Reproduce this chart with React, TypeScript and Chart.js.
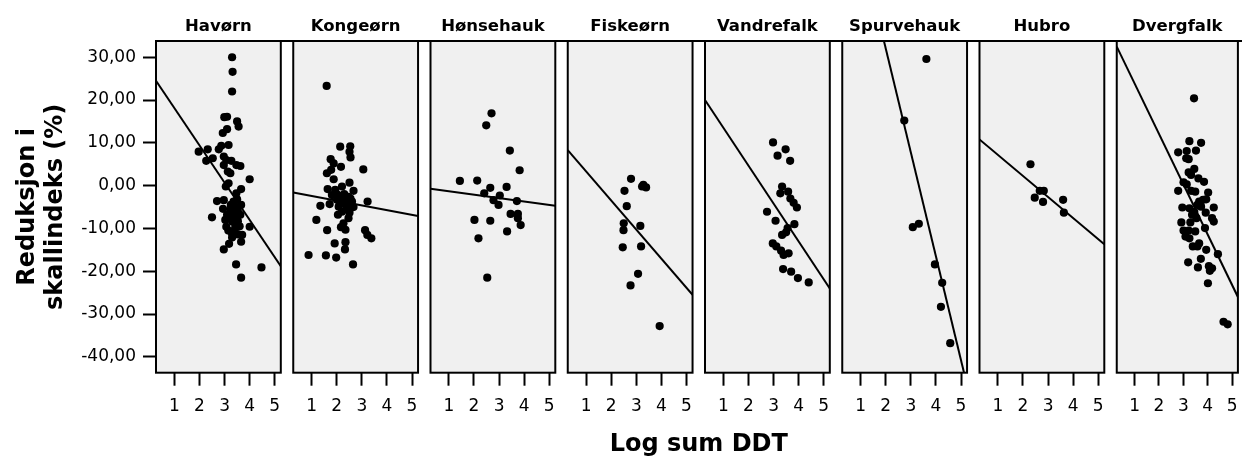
import React, { useEffect, useRef } from 'react';
import { Chart, registerables } from 'chart.js';

Chart.register(...registerables);

// ---------- data ----------
const species = ['Havørn', 'Kongeørn', 'Hønsehauk', 'Fiskeørn', 'Vandrefalk', 'Spurvehauk', 'Hubro', 'Dvergfalk'];

const havorn: number[][] = [
  [3.30, 30.0], [3.32, 26.6], [3.30, 22.0], [2.99, 16.0], [3.10, 16.1], [3.50, 15.0], [3.56, 13.8], [3.10, 13.2],
  [2.93, 12.3], [1.97, 7.95], [2.33, 8.5], [2.77, 8.5], [2.87, 9.3], [3.16, 9.5], [2.27, 5.8], [2.53, 6.4],
  [2.97, 6.8], [3.07, 6.0], [3.27, 5.8], [3.47, 4.8], [3.63, 4.6], [2.97, 4.8], [3.13, 3.3], [3.23, 2.9],
  [4.00, 1.5], [3.16, 0.55], [3.05, -0.2], [3.66, -0.8], [3.47, -1.8], [2.70, -3.6], [2.97, -3.4], [3.36, -3.7],
  [3.66, -4.5], [2.94, -5.4], [3.23, -5.7], [3.53, -5.9], [2.50, -7.4], [3.10, -6.8], [3.39, -7.2], [3.63, -6.8],
  [3.03, -8.0], [3.30, -8.4], [3.53, -8.3], [3.07, -9.6], [3.43, -9.6], [4.00, -9.6], [3.30, -11.2], [3.53, -11.4],
  [3.30, -12.1], [3.70, -11.5], [3.66, -13.1], [3.18, -13.6], [2.97, -14.9], [3.46, -18.4], [4.47, -19.1], [3.66, -21.5],
  [3.20, -7.6], [3.45, -5.0], [3.15, -10.5], [3.40, -10.4], [3.60, -9.5], [3.25, -4.5], [3.50, -3.2], [3.35, -6.0],
];

const kongeorn: number[][] = [
  [1.60, 23.3], [2.14, 9.1], [2.54, 9.2], [2.51, 7.9], [2.55, 6.6], [1.76, 6.2], [1.88, 5.2], [2.17, 4.4],
  [3.06, 3.8], [1.78, 3.7], [1.61, 2.9], [1.88, 1.5], [2.51, 0.7], [2.21, -0.2], [1.64, -0.8], [1.94, -1.0],
  [2.67, -1.2], [1.81, -2.2], [2.14, -2.4], [2.47, -2.6], [2.01, -3.3], [2.27, -3.7], [2.61, -3.7], [3.23, -3.7],
  [1.35, -4.7], [1.72, -4.3], [2.08, -4.9], [2.41, -4.7], [2.67, -5.0], [2.21, -6.1], [2.51, -6.3], [2.05, -6.8],
  [2.47, -7.6], [1.19, -8.0], [2.27, -8.8], [2.17, -9.7], [2.35, -10.3], [1.62, -10.4], [3.13, -10.4], [3.22, -11.5],
  [3.38, -12.3], [1.92, -13.5], [2.35, -13.2], [2.33, -14.9], [0.88, -16.2], [1.57, -16.3], [1.98, -16.8], [2.65, -18.4],
  [2.30, -2.0], [2.40, -5.5], [2.55, -3.0], [2.20, -4.2], [2.00, -2.0], [2.45, -4.0],
];

const honsehauk: number[][] = [
  [2.70, 16.9], [2.49, 14.1], [3.43, 8.2], [3.82, 3.6], [1.44, 1.1], [2.13, 1.2], [2.65, -0.5], [3.30, -0.3],
  [2.41, -1.8], [3.03, -2.3], [2.78, -3.4], [2.98, -4.5], [3.71, -3.6], [3.46, -6.6], [3.75, -6.6], [3.75, -7.6],
  [2.02, -8.0], [2.65, -8.2], [3.86, -9.2], [3.32, -10.7], [2.18, -12.3], [2.53, -21.5],
];

const fiskeorn: number[][] = [
  [2.79, 1.6], [3.28, 0.2], [3.39, -0.4], [3.23, -0.2], [2.53, -1.2], [2.62, -4.8], [2.50, -8.8], [3.16, -9.4],
  [2.49, -10.4], [2.46, -14.4], [3.19, -14.2], [3.07, -20.6], [2.77, -23.3], [3.93, -32.8],
];

const vandrefalk: number[][] = [
  [2.98, 10.1], [3.48, 8.5], [3.16, 7.0], [3.66, 5.8], [3.34, -0.2], [3.27, -1.8], [3.58, -1.4], [3.67, -3.0],
  [3.80, -4.0], [3.93, -5.1], [2.74, -6.1], [3.08, -8.2], [3.83, -9.0], [3.56, -9.9], [3.50, -10.9], [3.34, -11.5],
  [2.97, -13.5], [3.11, -14.2], [3.30, -15.2], [3.40, -16.2], [3.60, -15.8], [3.38, -19.5], [3.70, -20.1], [3.97, -21.6],
  [4.40, -22.6],
];

const spurvehauk: number[][] = [
  [3.62, 29.6], [2.74, 15.2], [3.08, -9.7], [3.32, -8.9], [3.96, -18.4], [4.25, -22.7], [4.20, -28.3], [4.57, -36.8],
];

const hubro: number[][] = [
  [2.30, 5.0], [2.67, -1.2], [2.83, -1.2], [2.47, -2.8], [2.80, -3.8], [3.60, -3.3], [3.63, -6.3],
];

const dvergfalk: number[][] = [
  [3.44, 20.4], [3.25, 10.4], [3.73, 10.0], [2.79, 7.8], [3.14, 8.1], [3.52, 8.2], [3.12, 6.4], [3.22, 6.2],
  [3.45, 3.9], [3.22, 3.1], [3.32, 2.5], [3.62, 1.7], [3.85, 0.9], [3.01, 0.8], [3.14, 0.3], [2.79, -1.2],
  [3.32, -1.2], [3.49, -1.4], [4.02, -1.6], [3.65, -3.7], [3.81, -3.3], [3.94, -3.2], [3.58, -4.5], [2.96, -5.1],
  [3.25, -5.3], [3.45, -6.1], [3.73, -4.9], [4.25, -5.1], [3.92, -6.3], [3.36, -6.8], [3.54, -7.6], [4.18, -7.6],
  [4.25, -8.4], [2.92, -8.6], [3.29, -8.6], [3.89, -9.9], [3.01, -10.5], [3.22, -10.5], [3.49, -10.7], [3.09, -11.9],
  [3.25, -12.3], [3.65, -13.5], [3.39, -14.2], [3.58, -14.2], [3.94, -15.0], [4.42, -16.0], [3.20, -17.9], [3.72, -17.1],
  [4.05, -18.8], [4.18, -19.3], [3.60, -19.1], [4.09, -19.9], [4.01, -22.8], [4.65, -31.8], [4.82, -32.4],
];

// fitted line end points (data units)
const havornFit = [[0.27, 24.5], [5.24, -18.8]];
const kongeornFit = [[0.27, -1.6], [5.24, -7.1]];
const honsehaukFit = [[0.27, -0.7], [5.24, -4.7]];
const fiskeornFit = [[0.27, 8.3], [5.24, -25.5]];
const vandrefalkFit = [[0.27, 20.0], [5.24, -24.0]];
const spurvehaukFit = [[1.93, 33.8], [5.12, -43.7]];
const hubroFit = [[0.27, 10.8], [5.24, -13.7]];
const dvergfalkFit = [[0.27, 32.5], [5.24, -26.0]];

const panelPoints = [havorn, kongeorn, honsehauk, fiskeorn, vandrefalk, spurvehauk, hubro, dvergfalk];
const panelFits = [havornFit, kongeornFit, honsehaukFit, fiskeornFit, vandrefalkFit, spurvehaukFit, hubroFit, dvergfalkFit];

const xTicks = [1, 2, 3, 4, 5];
const yTicks = [30, 20, 10, 0, -10, -20, -30, -40];
const xMin = 0.27;
const xMax = 5.24;
const yMin = -43.7;
const yMax = 33.8;
const xTitle = 'Log sum DDT';
const yTitle = ['Reduksjon i', 'skallindeks (%)'];

// ---------- layout ----------
const W = 1242;
const H = 459;
const PLOT_LEFT = 156;
const PANEL_STEP = 137.25;
const PANEL_W = 124.8;
const PLOT_TOP = 41;
const PLOT_BOTTOM = 372.7;
const FONT = "'DejaVu Sans', sans-serif";

const topLinePlugin = {
  id: 'topLine',
  afterDraw(chart: any) {
    const { ctx, chartArea } = chart;
    ctx.save();
    ctx.strokeStyle = '#000';
    ctx.lineWidth = 2;
    ctx.beginPath();
    ctx.moveTo(chartArea.left, chartArea.top);
    ctx.lineTo(W, chartArea.top);
    ctx.stroke();
    ctx.restore();
  },
};

const panelPlugin = {
  id: 'panelFrame',
  beforeDraw(chart: any) {
    const { ctx, chartArea } = chart;
    ctx.save();
    ctx.fillStyle = '#f0f0f0';
    ctx.fillRect(chartArea.left, chartArea.top, chartArea.right - chartArea.left, chartArea.bottom - chartArea.top);
    ctx.restore();
  },
  afterDraw(chart: any) {
    const { ctx, chartArea } = chart;
    ctx.save();
    ctx.strokeStyle = '#000';
    ctx.lineWidth = 2;
    ctx.strokeRect(chartArea.left, chartArea.top, chartArea.right - chartArea.left, chartArea.bottom - chartArea.top);
    ctx.restore();
  },
};

export default function App() {
  const refs = useRef<(HTMLCanvasElement | null)[]>([]);

  useEffect(() => {
    Chart.defaults.font.family = FONT;
    Chart.defaults.color = '#000';
    const charts: Chart[] = [];
    const lastRight = PLOT_LEFT + 7 * PANEL_STEP + PANEL_W;

    const frameCanvas = refs.current[0];
    if (frameCanvas) {
      charts.push(
        new Chart(frameCanvas, {
          type: 'scatter',
          data: { datasets: [] },
          options: {
            responsive: false,
            animation: false,
            events: [],
            layout: { padding: { left: 0, top: PLOT_TOP, right: W - lastRight, bottom: 0 } },
            plugins: { legend: { display: false }, tooltip: { enabled: false }, title: { display: false } },
            scales: {
              x: {
                type: 'linear',
                min: 0,
                max: 1,
                ticks: { display: false },
                grid: { display: false },
                border: { display: false },
                title: {
                  display: true,
                  text: xTitle,
                  color: '#000',
                  font: { family: FONT, size: 24, weight: 'bold', lineHeight: 1.2 },
                  padding: { top: 0, bottom: 0 },
                },
                afterFit: (s: any) => {
                  s.height = H - PLOT_BOTTOM;
                  s.paddingLeft = 0;
                  s.paddingRight = 0;
                },
              },
              y: {
                type: 'linear',
                min: yMin,
                max: yMax,
                afterBuildTicks: (s: any) => {
                  s.ticks = yTicks.map((v) => ({ value: v }));
                },
                ticks: {
                  color: '#000',
                  font: { family: FONT, size: 17 },
                  padding: 7,
                  callback: (v: any) => Number(v).toFixed(2).replace('.', ','),
                },
                grid: {
                  drawOnChartArea: false,
                  drawTicks: true,
                  tickLength: 13,
                  tickWidth: 2,
                  tickColor: '#000',
                  color: '#000',
                },
                border: { display: false },
                title: {
                  display: true,
                  text: yTitle,
                  color: '#000',
                  font: { family: FONT, size: 24, weight: 'bold', lineHeight: 1.2 },
                  padding: { top: 13, bottom: 0 },
                },
                afterFit: (s: any) => {
                  s.width = PLOT_LEFT;
                  s.paddingTop = 0;
                  s.paddingBottom = 0;
                },
              },
            },
          } as any,
          plugins: [topLinePlugin],
        })
      );
    }

    species.forEach((name, i) => {
      const canvas = refs.current[i + 1];
      if (!canvas) return;
      const left = PLOT_LEFT + i * PANEL_STEP;
      const right = W - (left + PANEL_W);
      charts.push(
        new Chart(canvas, {
          type: 'scatter',
          data: {
            datasets: [
              {
                data: panelPoints[i].map(([x, y]) => ({ x, y })),
                pointRadius: 4.1,
                pointBackgroundColor: '#000',
                pointBorderWidth: 0,
                showLine: false,
              },
              {
                data: panelFits[i].map(([x, y]) => ({ x, y })),
                showLine: true,
                borderColor: '#000',
                borderWidth: 2,
                pointRadius: 0,
              },
            ],
          },
          options: {
            responsive: false,
            animation: false,
            events: [],
            layout: { padding: { left, right, top: 0, bottom: 0 } },
            plugins: {
              legend: { display: false },
              tooltip: { enabled: false },
              title: {
                display: true,
                text: name,
                fullSize: false,
                color: '#000',
                font: { family: FONT, size: 16.5, weight: 'bold', lineHeight: 1.2 },
                padding: { top: 16.5, bottom: 4.7 },
              },
            },
            scales: {
              x: {
                type: 'linear',
                min: xMin,
                max: xMax,
                afterBuildTicks: (s: any) => {
                  s.ticks = xTicks.map((v) => ({ value: v }));
                },
                ticks: {
                  color: '#000',
                  font: { family: FONT, size: 17 },
                  padding: 11,
                  maxRotation: 0,
                  autoSkip: false,
                  callback: (v: any) => String(v),
                },
                grid: {
                  drawOnChartArea: false,
                  drawTicks: true,
                  tickLength: 13,
                  tickWidth: 2,
                  tickColor: '#000',
                  color: '#000',
                },
                border: { display: false },
                afterFit: (s: any) => {
                  s.height = H - PLOT_BOTTOM;
                  s.paddingLeft = 0;
                  s.paddingRight = 0;
                },
              },
              y: { type: 'linear', display: false, min: yMin, max: yMax },
            },
          } as any,
          plugins: [panelPlugin],
        })
      );
    });

    return () => {
      charts.forEach((c) => c.destroy());
    };
  }, []);

  return (
    <div style={{ position: 'absolute', left: 0, top: 0, width: W, height: H, background: '#fff', overflow: 'hidden' }}>
      {Array.from({ length: 9 }).map((_, i) => (
        <canvas
          key={i}
          ref={(el) => {
            refs.current[i] = el;
          }}
          width={W}
          height={H}
          style={{ position: 'absolute', left: 0, top: 0 }}
        />
      ))}
    </div>
  );
}
